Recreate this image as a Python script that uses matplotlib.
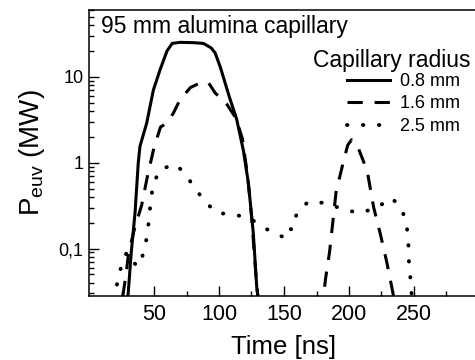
import matplotlib
matplotlib.use("Agg")
import matplotlib.pyplot as plt
from matplotlib.ticker import FixedLocator, LogLocator, NullFormatter

plt.rcParams["font.family"] = ["Liberation Sans", "DejaVu Sans"]
plt.rcParams["mathtext.fontset"] = "custom"
plt.rcParams["mathtext.rm"] = "Liberation Sans"
plt.rcParams["lines.scale_dashes"] = False

# 0.8 mm capillary radius
t_08 = [30, 32.5, 35.4, 37.9, 39.2, 44.4, 49.5, 54.6, 60, 64, 70, 80, 88, 94, 97,
        101, 108, 113.6, 118.7, 122.6, 126.4, 129, 131]
p_08 = [0.028, 0.09, 0.26, 1.0, 1.55, 2.9, 7, 12, 20, 24.5, 25.2, 25, 24.5, 21.7, 19,
        13, 5.8, 3.2, 1.4, 0.58, 0.15, 0.036, 0.02]

# 1.6 mm capillary radius
t_16 = [26, 28.5, 30.5, 35, 40.5, 45, 50, 55, 60, 65, 70, 78, 87, 92, 97, 106, 113,
        118, 122, 125, 129, 131, 150, 180, 182, 185, 187.5, 190, 195.5, 199, 202,
        207, 214, 219, 224, 229, 233, 236]
p_16 = [0.028, 0.05, 0.09, 0.17, 0.32, 0.7, 1.5, 2.6, 2.9, 3.8, 5.4, 7.5, 8.7, 8.5,
        6.5, 4.8, 3.3, 1.9, 0.7, 0.24, 0.037, 0.02, 0.005, 0.025, 0.045, 0.09, 0.2,
        0.45, 1.0, 1.6, 1.85, 1.5, 0.8, 0.3, 0.15, 0.07, 0.035, 0.02]

# 2.5 mm capillary radius
t_25 = [21.5, 23, 26, 29, 33, 38.5, 42.5, 44.8, 46.3, 47.5, 49.5, 55, 67.5, 77.7, 88,
        98, 110, 122.6, 136, 148.5, 153, 156, 160, 168.5, 181.5, 194.6, 207, 220, 233,
        241, 244.5, 245.6, 246, 247, 248, 250]
p_25 = [0.038, 0.05, 0.07, 0.09, 0.07, 0.062, 0.095, 0.145, 0.23, 0.36, 0.57, 0.85,
        0.95, 0.61, 0.37, 0.26, 0.25, 0.23, 0.17, 0.138, 0.18, 0.165, 0.26, 0.35,
        0.34, 0.29, 0.26, 0.29, 0.39, 0.28, 0.18, 0.12, 0.074, 0.05, 0.031, 0.02]

labels = ["0.8 mm", "1.6 mm", "2.5 mm"]

fig = plt.figure(figsize=(4.75, 3.6), dpi=100)
ax = fig.add_axes([89 / 475, 1 - 296 / 360, 390 / 475, 286 / 360])

ax.plot(t_08, p_08, color="black", lw=2.2, label=labels[0])
ax.plot(t_16, p_16, color="black", lw=2.2, dashes=(11, 8.5), label=labels[1])
ax.plot(t_25, p_25, color="black", lw=2.8, dashes=(0.3, 11.2),
        dash_capstyle="round", label=labels[2])

ax.set_yscale("log")
ax.set_xlim(0, 300)
ax.set_ylim(0.028, 60)

ax.xaxis.set_major_locator(FixedLocator([50, 100, 150, 200, 250, 300]))
ax.xaxis.set_minor_locator(FixedLocator([25, 75, 125, 175, 225, 275]))
ax.set_xticklabels(["50", "100", "150", "200", "250", ""])
ax.yaxis.set_major_locator(FixedLocator([0.1, 1, 10]))
ax.set_yticklabels(["0,1", "1", "10"])
ax.yaxis.set_minor_locator(LogLocator(subs=range(2, 10)))
ax.yaxis.set_minor_formatter(NullFormatter())

ax.tick_params(axis="both", which="major", direction="in", length=7, width=1)
ax.tick_params(axis="both", which="minor", direction="in", length=3.5, width=1)
ax.tick_params(axis="x", labelsize=15.5, pad=6)
ax.tick_params(axis="y", labelsize=13, pad=4)
for s in ax.spines.values():
    s.set_linewidth(1.1)
ax.spines["right"].set_visible(False)

ax.set_xlabel("Time [ns]", fontsize=18.5, labelpad=7)
ax.set_ylabel(r"P$_{\rm euv}$ (MW)", fontsize=20, labelpad=8)

ax.text(101 / 475, 1 - 26 / 360, "95 mm alumina capillary", fontsize=16.5,
        transform=fig.transFigure, va="center", ha="left")
ax.text(313 / 475, 1 - 60 / 360, "Capillary radius", fontsize=16.5,
        transform=fig.transFigure, va="center", ha="left")

leg = ax.legend(frameon=False, fontsize=13, handlelength=2.4,
                handletextpad=0.55, labelspacing=0.3, borderpad=0,
                borderaxespad=0, loc="upper left",
                bbox_to_anchor=(347 / 475, 1 - 73 / 360),
                bbox_transform=fig.transFigure)

fig.savefig("out.png", dpi=100)
